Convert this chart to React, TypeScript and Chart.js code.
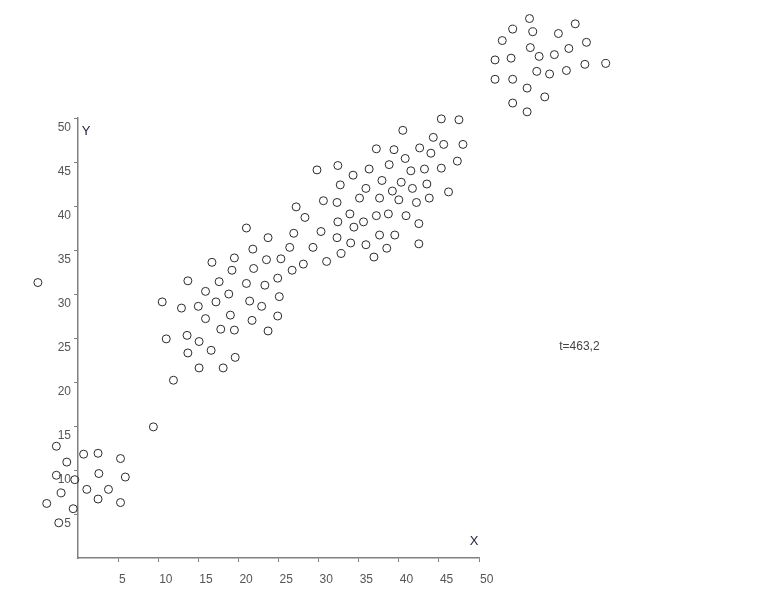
import React, { useEffect, useRef } from "react";
import { Chart, registerables } from "chart.js";

Chart.register(...registerables);

// Lower-left cluster (plus two isolated points)
const lowerX = [-2.7, 0.7, 2.5, 5.3, -1.4, -2.7, -0.4, 2.6, 5.9, 1.1, -2.1, 3.8, -3.9, 2.5, 5.3, -0.6, -2.4, 9.4, -5.0];
const lowerY = [12.7, 11.8, 11.9, 11.3, 10.9, 9.4, 8.9, 9.6, 9.2, 7.8, 7.4, 7.8, 6.2, 6.7, 6.3, 5.6, 4.0, 14.9, 31.3];

// Main diagonal band
const bandX = [
  23.7, 21.8, 19.5, 23.5, 16.7, 19.2, 21.9, 25.3, 13.7, 17.6, 21.0, 23.3, 24.9, 15.9, 18.8, 17.2, 21.4, 25.1, 10.5, 12.9,
  15.0, 22.9, 15.9, 19.0, 24.9, 21.7, 17.8, 19.5, 23.7, 11.0, 13.6, 15.1, 16.6, 13.7, 19.6, 15.1, 18.1, 11.9, 21.0,
  37.2, 39.4, 29.8, 32.4, 36.3, 38.8, 34.3, 32.7, 37.9, 35.9, 39.2, 35.1, 37.6, 30.6, 32.3, 27.2, 28.3, 33.9, 37.2, 38.7,
  32.4, 35.6, 34.4, 30.3, 26.9, 32.3, 37.6, 39.5, 34.0, 35.9, 38.5, 26.4, 29.3, 32.8, 36.9, 31.0, 28.1, 26.7,
  45.3, 47.5, 40.5, 44.3, 45.6, 48.0, 42.6, 44.0, 40.8, 47.3, 41.5, 43.2, 45.3, 40.3, 41.7, 43.5, 46.2, 40.0, 42.2, 43.8,
  40.9, 42.5, 42.5,
];
const bandY = [
  36.4, 35.1, 34.1, 33.9, 33.6, 32.7, 32.9, 34.0, 31.5, 31.4, 31.2, 31.0, 31.8, 30.3, 30.0, 29.1, 29.2, 29.7, 29.1, 28.4,
  28.6, 28.6, 27.2, 27.6, 27.5, 27.0, 26.0, 25.9, 25.8, 24.9, 25.3, 24.6, 23.6, 23.3, 22.8, 21.6, 21.6, 20.2, 37.5,
  46.5, 46.4, 44.1, 44.6, 44.2, 44.7, 43.5, 42.4, 42.9, 42.0, 41.7, 40.9, 40.9, 40.6, 40.4, 39.9, 38.7, 39.1, 38.9, 39.1,
  38.2, 38.2, 37.6, 37.1, 36.9, 36.4, 36.7, 36.7, 35.8, 35.6, 35.2, 35.3, 35.3, 34.6, 34.2, 33.7, 33.4, 32.7,
  49.9, 49.8, 48.6, 47.8, 47.0, 47.0, 46.6, 46.0, 45.4, 45.1, 44.0, 44.2, 44.3, 42.7, 42.0, 42.5, 41.6, 40.7, 40.4, 40.9,
  38.9, 38.0, 35.7,
];

// Upper-right cluster (outside the axis range)
const upperX = [56.3, 62.0, 54.2, 56.7, 59.9, 52.9, 63.4, 56.4, 61.2, 57.5, 59.4, 52.0, 54.0, 63.2, 65.8, 57.2, 58.8, 60.9, 52.0, 54.2, 56.0, 58.2, 54.2, 56.0];
const upperY = [61.3, 60.7, 60.1, 59.8, 59.6, 58.8, 58.6, 58.0, 57.9, 57.0, 57.2, 56.6, 56.8, 56.1, 56.2, 55.3, 55.0, 55.4, 54.4, 54.4, 53.4, 52.4, 51.7, 50.7];

const xTickValues = [5, 10, 15, 20, 25, 30, 35, 40, 45, 50];
const yTickValues = [5, 10, 15, 20, 25, 30, 35, 40, 45, 50];
const xTitle = "X";
const yTitle = "Y";
const noteText = "t=463,2";
const noteAt = { x: 60.0, y: 24.0 };

const FONT = '"Liberation Sans", Arial, sans-serif';

export default function App() {
  const ref = useRef<HTMLCanvasElement>(null);

  useEffect(() => {
    if (!ref.current) return;
    const zip = (xs: number[], ys: number[]) => xs.map((x, i) => ({ x, y: ys[i] }));
    const points = [...zip(lowerX, lowerY), ...zip(bandX, bandY), ...zip(upperX, upperY)];

    // Let points lying outside the axis ranges be drawn (as in the reference).
    const unclipPlugin = {
      id: "unclip",
      beforeDatasetsDraw(chart: any) {
        chart.$savedArea = chart.chartArea;
        chart.chartArea = { left: 0, top: 0, right: chart.width, bottom: chart.height, width: chart.width, height: chart.height };
      },
      afterDatasetsDraw(chart: any) {
        if (chart.$savedArea) chart.chartArea = chart.$savedArea;
      },
    };

    const textPlugin = {
      id: "texts",
      afterDraw(chart: any) {
        const { ctx } = chart;
        const xs = chart.scales.x;
        const ys = chart.scales.y;
        ctx.save();
        ctx.font = `13px ${FONT}`;
        ctx.fillStyle = "#1e1e3c";
        ctx.textAlign = "center";
        ctx.textBaseline = "middle";
        ctx.fillText(yTitle, xs.getPixelForValue(0) + 8, ys.getPixelForValue(50) + 13);
        ctx.fillText(xTitle, xs.getPixelForValue(50) - 5, ys.getPixelForValue(0) - 17);
        ctx.font = `12px ${FONT}`;
        ctx.fillStyle = "#444";
        ctx.textAlign = "left";
        ctx.fillText(noteText, xs.getPixelForValue(noteAt.x), ys.getPixelForValue(noteAt.y));
        ctx.restore();
      },
    };

    const chart = new Chart(ref.current, {
      type: "scatter",
      data: {
        datasets: [
          {
            data: points,
            pointRadius: 4,
            pointHoverRadius: 4,
            pointBackgroundColor: "rgba(0,0,0,0)",
            pointBorderColor: "#2a2a2a",
            pointBorderWidth: 1,
            clip: false as any,
          },
        ],
      },
      options: {
        responsive: false,
        animation: false,
        events: [],
        layout: { padding: { left: 38, top: 118, right: 284, bottom: 11 } },
        plugins: { legend: { display: false }, tooltip: { enabled: false } },
        scales: {
          x: {
            type: "linear",
            min: 0,
            max: 50,
            afterFit: (s: any) => {
              s.height = 30;
            },
            afterBuildTicks: (s: any) => {
              s.ticks = xTickValues.map((v) => ({ value: v }));
            },
            grid: { drawOnChartArea: false, drawTicks: true, tickLength: 4, color: "#808080" },
            border: { color: "#808080", width: 1.5 },
            ticks: {
              align: "start",
              padding: 10,
              labelOffset: 1,
              autoSkip: false,
              maxRotation: 0,
              color: "#555",
              font: { family: FONT, size: 12 },
            },
          },
          y: {
            type: "linear",
            min: 0,
            max: 50,
            afterFit: (s: any) => {
              s.width = 40;
            },
            afterBuildTicks: (s: any) => {
              s.ticks = yTickValues.map((v) => ({ value: v }));
            },
            grid: { drawOnChartArea: false, drawTicks: true, tickLength: 4, color: "#808080" },
            border: { color: "#808080", width: 1.5 },
            ticks: {
              padding: 3,
              labelOffset: 10,
              autoSkip: false,
              color: "#555",
              font: { family: FONT, size: 12 },
            },
          },
        },
      } as any,
      plugins: [unclipPlugin, textPlugin],
    });
    return () => chart.destroy();
  }, []);

  return (
    <div style={{ position: "absolute", left: 0, top: 0, width: 763, height: 599 }}>
      <canvas ref={ref} width={763} height={599} style={{ display: "block" }} />
    </div>
  );
}
